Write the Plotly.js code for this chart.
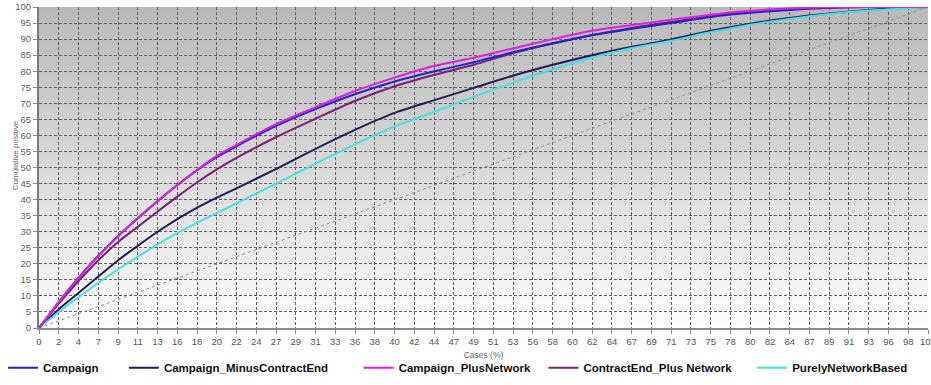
<!DOCTYPE html>
<html>
<head>
<meta charset="utf-8">
<script src="https://cdn.plot.ly/plotly-3.0.1.min.js"></script>
<style>
  html, body { margin: 0; padding: 0; background: #ffffff; }
  #chart { width: 931px; height: 385px; }
</style>
</head>
<body>
<div id="chart"></div>
<script>
// ---- data ----
const cases = [0, 2.2, 4.4, 6.7, 8.9, 11.1, 13.3, 15.6, 17.8, 20, 22.2, 26.7, 31.1, 35.6, 40, 44.4, 48.9, 53.3, 57.8, 62.2, 66.7, 71.1, 75.6, 80, 84.4, 88.9, 93.3, 97.8, 100];
const campaign = [0, 8, 15.5, 22.6, 28.6, 34.1, 39.4, 44.6, 49.2, 53.2, 56.6, 63, 68.2, 72.9, 76.8, 79.9, 82.8, 85.9, 88.7, 91.2, 93.2, 95, 96.9, 98.2, 99.1, 99.7, 100, 100, 100];
const campaignMinusContractEnd = [0, 5.8, 10.8, 16.1, 21.1, 25.6, 29.9, 34.0, 37.5, 40.6, 43.5, 49.6, 55.8, 61.8, 67, 70.9, 74.8, 78.6, 82, 85, 87.6, 89.9, 92.6, 94.8, 96.6, 98, 99.1, 99.8, 100];
const campaignPlusNetwork = [0, 8, 15.5, 22.5, 28.7, 34.3, 39.5, 44.6, 49.3, 53.6, 57, 63.6, 68.8, 73.9, 78, 81.6, 84.2, 87.1, 90, 92.6, 94.4, 96, 97.6, 98.8, 99.5, 99.9, 100, 100, 100];
const contractEndPlusNetwork = [0, 7.5, 14.5, 21.2, 26.8, 31.5, 36.2, 41, 45.4, 49.4, 53, 59.5, 65.2, 70.8, 75.3, 78.8, 82, 85.6, 88.6, 91.3, 93.5, 95.3, 97.2, 98.6, 99.4, 99.9, 100, 100, 100];
const purelyNetworkBased = [0, 4.9, 9.5, 14.1, 18.3, 22.2, 26, 29.6, 32.8, 35.8, 38.8, 45.0, 51.2, 57.3, 62.8, 67.3, 72, 76.5, 80.6, 84.2, 87.2, 89.5, 92.2, 94.5, 96.3, 97.8, 98.9, 99.6, 100];
const baselineX = [0, 100];
const baselineY = [0, 100];

const seriesNames = ["Campaign", "Campaign_MinusContractEnd", "Campaign_PlusNetwork", "ContractEnd_Plus Network", "PurelyNetworkBased"];
const xTickLabels = ["0","2","4","7","9","11","13","16","18","20","22","24","27","29","31","33","36","38","40","42","44","47","49","51","53","56","58","60","62","64","67","69","71","73","75","78","80","82","84","87","89","91","93","96","98","100"];
const yTickVals = [0,5,10,15,20,25,30,35,40,45,50,55,60,65,70,75,80,85,90,95,100];

// ---- styling ----
const colors = ["#2323c8", "#1c1c58", "#e01ee0", "#7a1f72", "#45dfe3"];
const seriesValues = [campaign, campaignMinusContractEnd, campaignPlusNetwork, contractEndPlusNetwork, purelyNetworkBased];
const legendTextStart = [42, 163, 398, 583, 792]; // px
const plotL = 38, plotR = 3, plotT = 7, plotB = 51;
const plotW = 931 - plotL - plotR, plotH = 385 - plotT - plotB;

const xTickVals = xTickLabels.map((_, i) => i * 100 / (xTickLabels.length - 1));

// background gradient image (SVG)
const svgBg = '<svg xmlns="http://www.w3.org/2000/svg" width="100" height="400" preserveAspectRatio="none" viewBox="0 0 100 400">' +
  '<defs><linearGradient id="g" x1="0" y1="0" x2="0" y2="1">' +
  '<stop offset="0" stop-color="#b9b9b9"/><stop offset="0.45" stop-color="#d5d5d5"/><stop offset="1" stop-color="#fefefe"/>' +
  '</linearGradient></defs><rect width="100" height="400" fill="url(#g)"/></svg>';
const bgUrl = 'data:image/svg+xml;charset=utf-8,' + encodeURIComponent(svgBg);

const traces = [{
  x: baselineX, y: baselineY, type: 'scatter', mode: 'lines',
  line: { color: '#8e8e8e', width: 1, dash: 'dot' },
  showlegend: false, hoverinfo: 'skip'
}];
const order = [1, 4, 3, 0, 2];
const legendKeys = ['legend', 'legend2', 'legend3', 'legend4', 'legend5'];
order.forEach(i => {
  traces.push({
    x: cases, y: seriesValues[i], type: 'scatter', mode: 'lines',
    name: seriesNames[i],
    line: { color: colors[i], width: 2, shape: 'spline', smoothing: 0.8 },
    legend: legendKeys[i]
  });
});

const baseFont = 'Liberation Sans, Arial, sans-serif';
const legendFont = { family: baseFont, size: 11.5, color: '#111111', weight: 'bold' };
const legendY = (plotH - (374.5 - plotT)) / plotH;

const layout = {
  width: 931, height: 385,
  margin: { l: plotL, r: plotR, t: plotT, b: plotB, pad: 0 },
  paper_bgcolor: '#ffffff',
  plot_bgcolor: 'rgba(0,0,0,0)',
  images: [{
    source: bgUrl, xref: 'paper', yref: 'paper', x: 0, y: 1, sizex: 1, sizey: 1,
    sizing: 'stretch', xanchor: 'left', yanchor: 'top', layer: 'below'
  }],
  xaxis: {
    range: [0, 100], tickmode: 'array', tickvals: xTickVals, ticktext: xTickLabels,
    showgrid: true, gridcolor: '#606060', gridwidth: 1, griddash: '3px,2px',
    zeroline: false, showline: true, linecolor: '#8a8a8a', linewidth: 1.5,
    ticks: 'outside', ticklen: 4, tickcolor: '#8a8a8a', tickwidth: 1,
    ticklabeloverflow: 'allow',
    tickfont: { family: baseFont, size: 9.5, color: '#555555' },
    title: { text: 'Cases (%)', font: { family: baseFont, size: 8.5, color: '#666666' }, standoff: 6 },
    fixedrange: true
  },
  yaxis: {
    range: [0, 100], tickmode: 'array', tickvals: yTickVals,
    showgrid: true, gridcolor: '#606060', gridwidth: 1, griddash: '3px,2px',
    zeroline: false, showline: true, linecolor: '#7a7a7a', linewidth: 2,
    ticks: 'outside', ticklen: 4, tickcolor: '#8a8a8a', tickwidth: 1,
    tickfont: { family: baseFont, size: 9.5, color: '#606060' },
    fixedrange: true
  },
  annotations: [{
    text: 'Cumulative positive', textangle: -90,
    xref: 'paper', yref: 'paper',
    x: (14 - plotL) / plotW, y: (plotH - (158 - plotT)) / plotH,
    xanchor: 'center', yanchor: 'middle', showarrow: false,
    font: { family: baseFont, size: 8, color: '#666666' }
  }],
  showlegend: true
};
legendKeys.forEach((k, i) => {
  layout[k] = {
    x: (legendTextStart[i] - 40 - plotL) / plotW, xanchor: 'left',
    y: legendY, yanchor: 'middle',
    orientation: 'h', bgcolor: 'rgba(0,0,0,0)', borderwidth: 0,
    font: legendFont, itemwidth: 30
  };
});

Plotly.newPlot('chart', traces, layout, { staticPlot: true, displayModeBar: false });
</script>
</body>
</html>
